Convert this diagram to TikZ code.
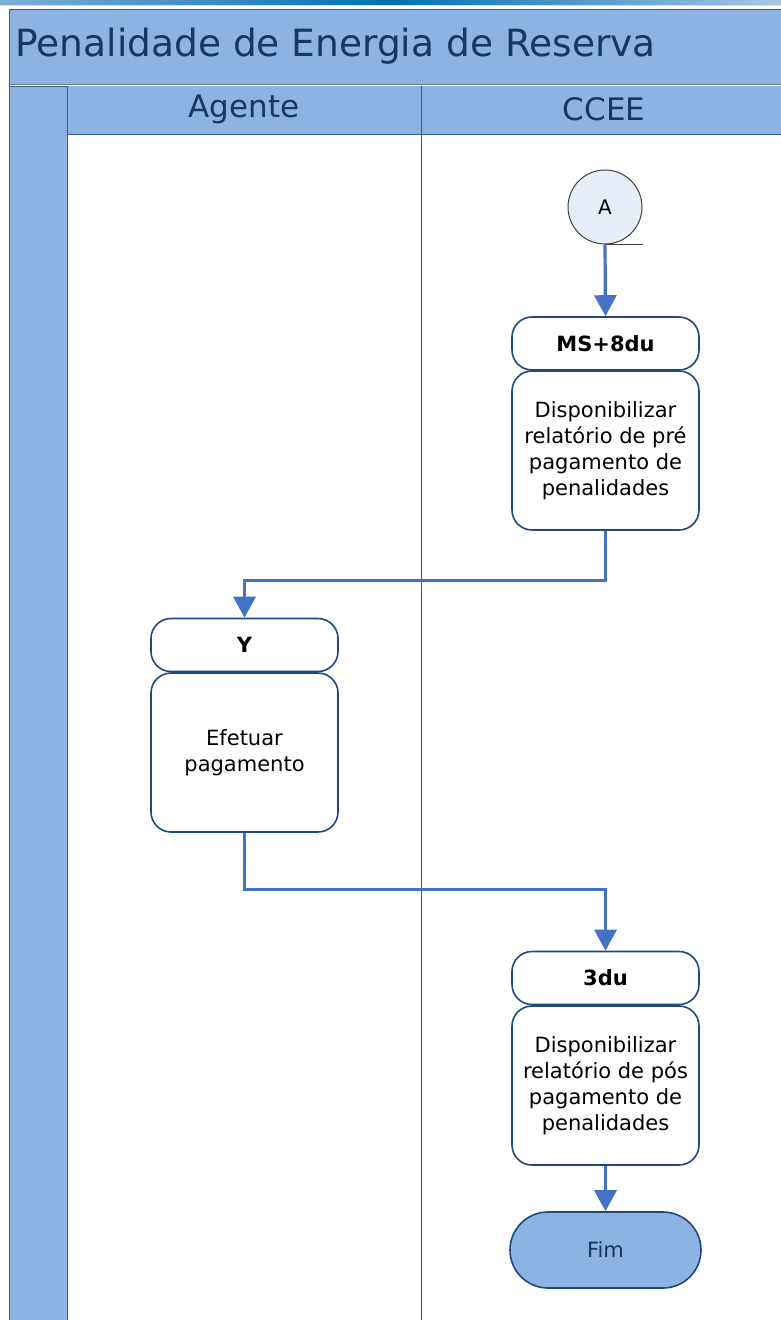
\documentclass[tikz,border=0pt]{standalone}
\usepackage{fontspec}
\setmainfont{DejaVu Sans}
\usetikzlibrary{arrows.meta,shapes.misc}
\definecolor{laneblue}{HTML}{8DB3E2}
\definecolor{navy}{HTML}{17375E}
\definecolor{boxline}{HTML}{1F497D}
\definecolor{lanelin}{HTML}{385D8A}
\definecolor{flowblue}{HTML}{4472C4}
\definecolor{circfill}{HTML}{E6EDF7}
\definecolor{barmid}{HTML}{0070B0}
\definecolor{barleft}{HTML}{7FAED8}
\definecolor{barright}{HTML}{A8C8E6}
\begin{document}
\begin{tikzpicture}[x=1pt,y=-1pt,
  hdrbox/.style={draw=boxline, line width=1.6pt, rounded corners=20pt, fill=white,
    minimum width=187pt, minimum height=53pt, inner sep=0pt,
    font=\fontsize{21}{26}\selectfont\bfseries},
  taskbox/.style={draw=boxline, line width=1.6pt, rounded corners=20pt, fill=white,
    minimum width=187pt, minimum height=159pt, inner sep=0pt, align=center,
    font=\fontsize{21}{26}\selectfont},
  flow/.style={draw=flowblue, line width=3.2pt, -{Triangle[width=22pt,length=21pt]}},
  lanehdr/.style={text=navy, font=\fontsize{31}{36}\selectfont},
]
\useasboundingbox (0,0) rectangle (781,1320);
% top gradient bar
\shade[left color=barleft, right color=barright, middle color=barmid] (0,0) rectangle (781,5);
\fill[barright!60!white] (0,5) rectangle (781,6);
% title band
\fill[laneblue] (9,9) rectangle (782,84);
\draw[lanelin, line width=1.2pt] (782,9.5) -- (9.5,9.5) -- (9.5,1320);
\draw[gray!80!lanelin, line width=1pt] (9,84.5) -- (782,84.5);
\node[anchor=west, text=navy, font=\fontsize{37.5}{44}\selectfont] (title) at (12,46) {Penalidade de Energia de Reserva};
% left strip
\fill[laneblue] (10,86) rectangle (67,1320);
\draw[lanelin, line width=0.8pt] (9,86) -- (782,86);
% lane headers
\fill[laneblue] (67,86) rectangle (782,134);
\draw[lanelin, line width=1pt] (67,86) -- (67,1320);
\draw[lanelin, line width=1pt] (67,134) -- (782,134);
\draw[lanelin, line width=0.8pt] (421,86) -- (421,1320);
\node[lanehdr] (agente) at (244,109) {Agente};
\node[lanehdr] (ccee) at (604,109) {CCEE};
% start connector
\node[circle, draw=black!75, line width=1pt, fill=circfill, minimum size=74pt, inner sep=0pt,
  font=\fontsize{20}{24}\selectfont] (a) at (605,207) {A};
\draw[black!75, line width=1pt] (a.south) -- ++(38,0);
% CCEE task 1
\node[hdrbox] (h1) at (605.5,343.5) {MS+8du};
\node[taskbox] (t1) at (605.5,450.5) {Disponibilizar\\relatório de pré\\pagamento de\\penalidades};
% Agente task
\node[hdrbox] (h2) at (244.5,645) {Y};
\node[taskbox] (t2) at (244.5,752.5) {Efetuar\\pagamento};
% CCEE task 2
\node[hdrbox] (h3) at (605.5,978) {3du};
\node[taskbox] (t3) at (605.5,1085.5) {Disponibilizar\\relatório de pós\\pagamento de\\penalidades};
% end
\node[rounded rectangle, draw=boxline, line width=1.6pt, fill=laneblue, minimum width=191pt,
  minimum height=76pt, inner sep=0pt, text=navy, font=\fontsize{21}{26}\selectfont] (fim) at (605.5,1250) {Fim};
% connectors
\draw[flow] (a.south) -- (h1.north);
\draw[flow] (t1.south) -- ++(0,50) -| (h2.north);
\draw[flow] (t2.south) -- ++(0,57) -| (h3.north);
\draw[flow] (t3.south) -- (fim.north);
\end{tikzpicture}
\end{document}
